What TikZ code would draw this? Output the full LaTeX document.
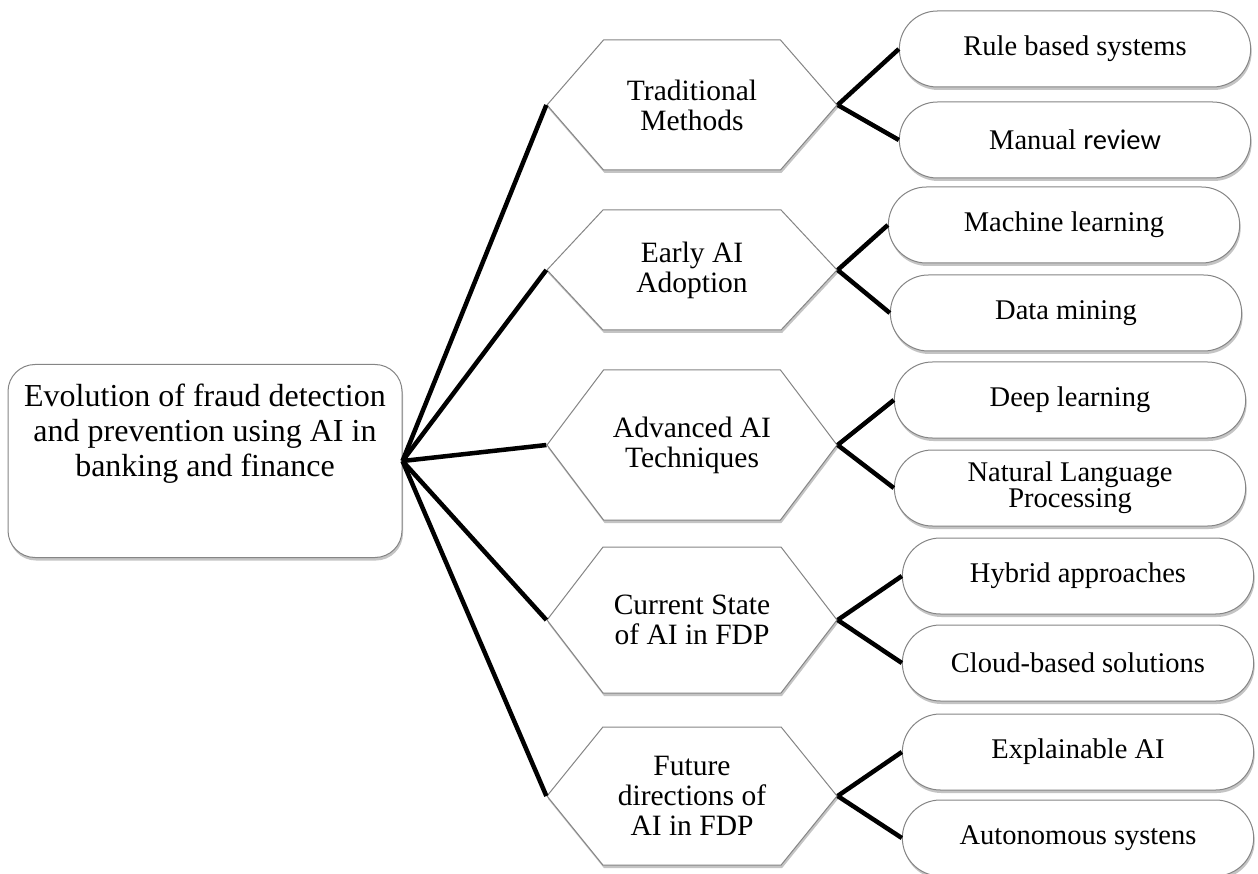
\documentclass[tikz,border=0pt]{standalone}
\usepackage{fontspec}
\setmainfont{Liberation Serif}
\newfontfamily\carlito{Carlito}
\usetikzlibrary{shapes.symbols, shapes.misc, shadows}
\definecolor{cedge}{HTML}{858585}
\definecolor{cshadow}{HTML}{6B6B6B}
\tikzset{
  every picture/.style={line width=1pt},
  softshadow/.style={drop shadow={shadow xshift=1pt, shadow yshift=-3pt, fill=cshadow, opacity=0.4}},
  rootbox/.style={draw=cedge, fill=white, rounded corners=27pt, minimum width=394pt, minimum height=193pt, softshadow},
  roottext/.style={align=center, font=\fontsize{32}{35}\selectfont},
  hexa/.style 2 args={signal, signal to=west and east, signal pointer angle=#2, draw=cedge, fill=white,
    minimum width=290pt, minimum height=#1, inner sep=2pt, align=center, font=\fontsize{29.5}{30}\selectfont, softshadow},
  pill/.style={rounded rectangle, draw=cedge, fill=white, minimum width=358pt, minimum height=76pt,
    align=center, font=\fontsize{28.5}{23}\selectfont, softshadow},
  link/.style={draw=black, line width=4.5pt},
}
\begin{document}
\begin{tikzpicture}[x=1pt, y=-1pt]
  \useasboundingbox (0,0) rectangle (1258,874);
  % root of the tree
  \node[rootbox] (root) at (205,461) {};
  \node[roottext] (roottitle) at ([yshift=27pt]root.center) {Evolution of fraud detection\\and prevention using AI in\\banking and finance};
  % stages
  \node[hexa={130pt}{98}] (trad) at (692,105) {Traditional\\Methods};
  \node[hexa={120pt}{94}] (early) at (692,270) {Early AI\\Adoption};
  \node[hexa={150pt}{106}] (adv) at (692,445) {Advanced AI\\Techniques};
  \node[hexa={146pt}{105}] (curr) at (692,620) {Current State\\of AI in FDP};
  \node[hexa={138pt}{102}] (fut) at (692,796) {Future\\directions of\\AI in FDP};
  % leaves, two per stage
  \node[pill] (rule) at (1075,49) {Rule based systems};
  \node[pill] (manual) at (1075,140) {Manual {\carlito review}};
  \node[pill] (ml) at (1064,225) {Machine learning};
  \node[pill] (dm) at (1066,313) {Data mining};
  \node[pill] (dl) at (1070,400) {Deep learning};
  \node[pill] (nlp) at (1070,488) {Natural Language\\Processing};
  \node[pill] (hybrid) at (1078,576) {Hybrid approaches};
  \node[pill] (cloud) at (1078,663) {Cloud-based solutions};
  \node[pill] (xai) at (1078,752) {Explainable AI};
  \node[pill] (auto) at (1078,838) {Autonomous systens};
  % connectors
  \foreach \s in {trad, early, adv, curr, fut}
    \draw[link] (root.east) -- (\s.west);
  \foreach \s/\a/\b in {trad/rule/manual, early/ml/dm, adv/dl/nlp, curr/hybrid/cloud, fut/xai/auto} {
    \draw[link] (\s.east) -- (\a.west);
    \draw[link] (\s.east) -- (\b.west);
  }
\end{tikzpicture}
\end{document}
